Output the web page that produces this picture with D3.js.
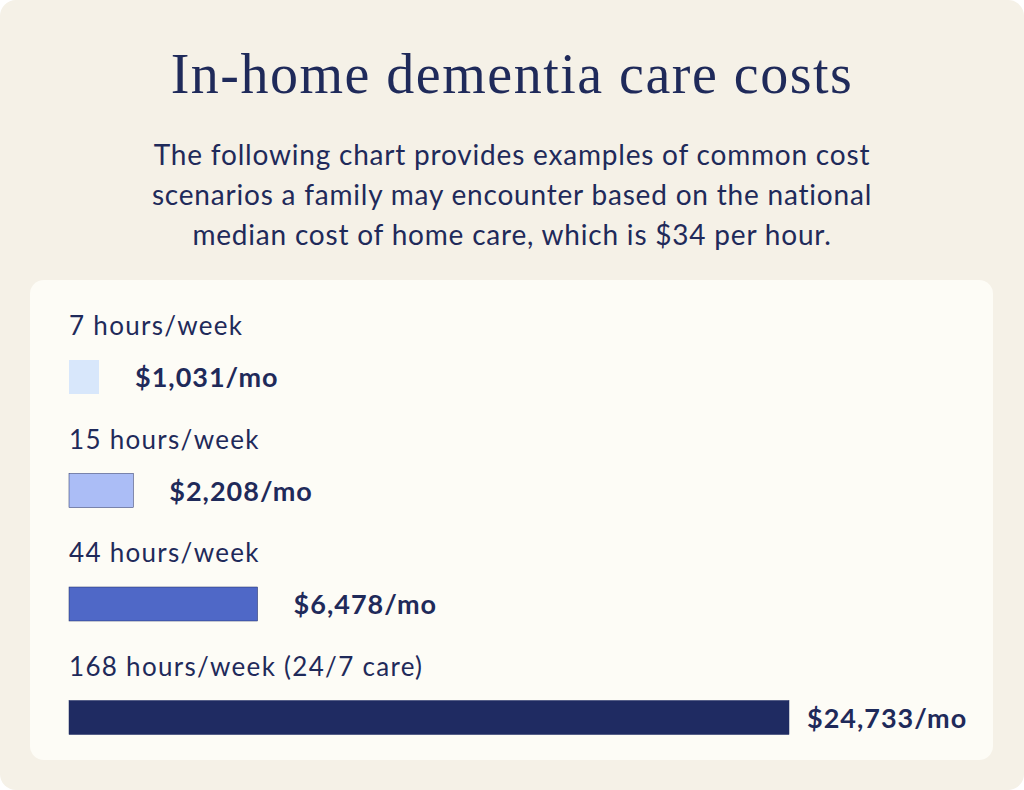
<!DOCTYPE html>
<html><head><meta charset="utf-8">
<script src="https://cdn.jsdelivr.net/npm/d3@7"></script>
<style>body{margin:0;background:#fff}</style>
</head><body>
<script>
var categories = ["7 hours/week", "15 hours/week", "44 hours/week", "168 hours/week (24/7 care)"];
var values = [1031, 2208, 6478, 24733];
var colors = ["#d8e7fb", "#abbdf6", "#4f68c7", "#1f2b62"];
var subtitle = ["The following chart provides examples of common cost",
  "scenarios a family may encounter based on the national",
  "median cost of home care, which is $34 per hour."];

var W = 1024, H = 790, navy = "#1f2a5a";
var svg = d3.select("body").append("svg").attr("width", W).attr("height", H);
svg.append("rect").attr("width", W).attr("height", H).attr("rx", 16).attr("fill", "#f5f1e7");

svg.append("text").attr("x", W / 2).attr("y", 93).attr("text-anchor", "middle")
  .attr("font-family", "Liberation Serif, serif").attr("font-size", 56).attr("letter-spacing", 1.5)
  .attr("fill", navy).text("In-home dementia care costs");
svg.selectAll(".sub").data(subtitle).enter().append("text")
  .attr("x", W / 2).attr("y", function(d, i) { return 165 + i * 40; })
  .attr("text-anchor", "middle").attr("font-family", "Lato, sans-serif")
  .attr("font-size", 28).attr("letter-spacing", 0.8).attr("fill", navy).text(function(d) { return d; });

svg.append("rect").attr("x", 30).attr("y", 280).attr("width", 963).attr("height", 480)
  .attr("rx", 14).attr("fill", "#fdfcf6");

var x = d3.scaleLinear().domain([0, d3.max(values)]).range([69, 789]);
var y = d3.scaleBand().domain(categories).range([305, 759]);

var g = svg.selectAll(".row").data(categories).enter().append("g")
  .attr("transform", function(d) { return "translate(0," + y(d) + ")"; });
g.append("text").attr("x", 69).attr("y", 30).attr("font-family", "Lato, sans-serif")
  .attr("font-size", 26).attr("letter-spacing", 1.3).attr("fill", navy).text(function(d) { return d; });
g.append("rect").attr("x", x(0)).attr("y", 55).attr("height", 34)
  .attr("width", function(d, i) { return x(values[i]) - x(0); })
  .attr("fill", function(d, i) { return colors[i]; })
  .attr("stroke", function(d, i) { return i == 0 ? "none" : "#1f2b62"; }).attr("stroke-width", 0.5);
g.append("text")
  .attr("x", function(d, i) { return x(values[i]) + (x(values[i]) > 700 ? 18 : 36); })
  .attr("y", 82).attr("font-family", "Lato, sans-serif").attr("font-weight", "bold")
  .attr("font-size", 27).attr("letter-spacing", 1).attr("fill", navy)
  .text(function(d, i) { return "$" + d3.format(",")(values[i]) + "/mo"; });
</script>
</body></html>
